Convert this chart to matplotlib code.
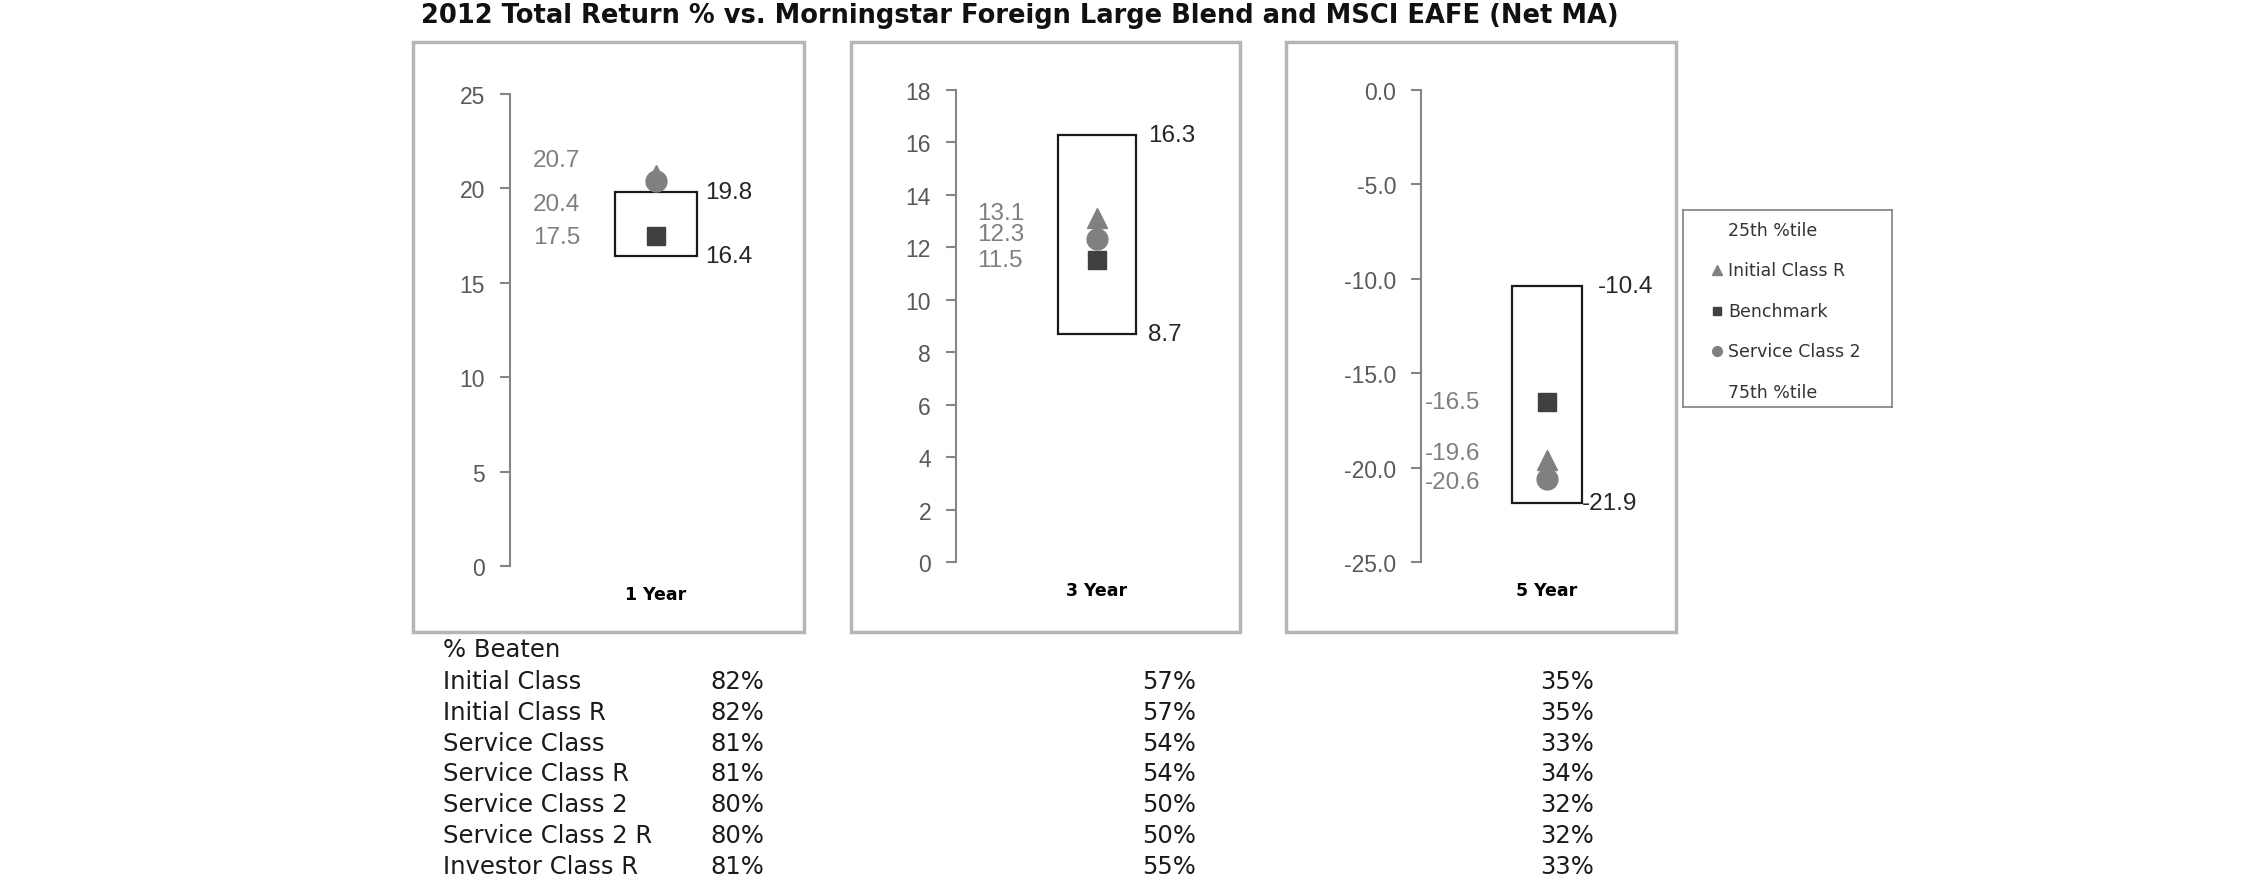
import matplotlib
matplotlib.use("Agg")
import matplotlib.pyplot as plt
from matplotlib import font_manager
from matplotlib.patches import Rectangle
from matplotlib.ticker import FuncFormatter, MultipleLocator

# --- chart data ---
periods = ["1 Year", "3 Year", "5 Year"]
pct_25th = [19.8, 16.3, -10.4]
pct_75th = [16.4, 8.7, -21.9]
initial_class_r = [20.7, 13.1, -19.6]
benchmark = [17.5, 11.5, -16.5]
service_class_2 = [20.4, 12.3, -20.6]
y_limits = [(0, 25), (0, 18), (-25, 0)]
y_steps = [5, 2, 5]
y_decimals = [0, 0, 1]

legend_labels = ["25th %tile", "Initial Class R", "Benchmark", "Service Class 2", "75th %tile"]

share_classes = ["Initial Class", "Initial Class R", "Service Class", "Service Class R",
                 "Service Class 2", "Service Class 2 R", "Investor Class R"]
beaten_1yr = [82, 82, 81, 81, 80, 80, 81]
beaten_3yr = [57, 57, 54, 54, 50, 50, 55]
beaten_5yr = [35, 35, 33, 34, 32, 32, 33]

# --- layout (pixels of the 2250x895 picture) ---
W, H = 2250, 895
frames = [(413, 804), (851, 1240), (1286, 1676)]
frame_top, frame_bottom = 43, 633
axes_px = [(510, 802, 95, 567), (956, 1238, 91, 563), (1421, 1673, 91, 563)]
left_label_x = [0.157, 0.149, 0.03]
left_label_y = [[21.5, 19.2, 17.45], [13.3, 12.5, 11.5], [-16.5, -19.25, -20.75]]
right_label_x = [(1.336, 1.336), (1.362, 1.362), (1.405, 1.278)]

# numbers in the original are a narrow Arial; use the narrow face when present
try:
    font_manager.findfont("Liberation Sans Narrow", fallback_to_default=False)
    num_family, tick_size, value_size = "Liberation Sans Narrow", 19, 20.5
except ValueError:
    num_family, tick_size, value_size = "Liberation Sans", 16.5, 17.5


def fx(px):
    return px / W


def fy(py):
    return 1 - py / H


fig = plt.figure(figsize=(W / 100, H / 100), dpi=100)
fig.patch.set_facecolor("white")

fig.text(fx(1020), fy(16), "2012 Total Return % vs. Morningstar Foreign Large Blend and MSCI EAFE (Net MA)",
         ha="center", va="center", fontsize=18.5, fontweight="bold", family="DejaVu Sans", color="#111111")

for i, period in enumerate(periods):
    x0, x1 = frames[i]
    fig.add_artist(Rectangle((fx(x0), fy(frame_bottom)), (x1 - x0) / W, (frame_bottom - frame_top) / H,
                             transform=fig.transFigure, fill=False, edgecolor="#b5b5b5", linewidth=2.5))

    left, right, top, bottom = axes_px[i]
    ax = fig.add_axes([fx(left), fy(bottom), (right - left) / W, (bottom - top) / H])
    ax.patch.set_visible(False)
    ax.set_xlim(0, 2)
    ax.set_ylim(*y_limits[i])

    for side in ["top", "right", "bottom"]:
        ax.spines[side].set_visible(False)
    ax.spines["left"].set_color("#868686")
    ax.spines["left"].set_linewidth(1.5)

    ax.yaxis.set_major_locator(MultipleLocator(y_steps[i]))
    dec = y_decimals[i]
    ax.yaxis.set_major_formatter(FuncFormatter(lambda v, p, d=dec: f"{v:.{d}f}"))
    ax.tick_params(axis="y", length=7, width=1.5, color="#868686", pad=11,
                   labelsize=tick_size, labelcolor="#595959")
    for lab in ax.get_yticklabels():
        lab.set_family(num_family)

    ax.set_xticks([1], [period])
    ax.tick_params(axis="x", length=0, pad=14, labelsize=12.5)
    for lab in ax.get_xticklabels():
        lab.set_fontweight("bold")
        lab.set_family("DejaVu Sans")

    # 25th-75th percentile box
    ax.bar(1, pct_25th[i] - pct_75th[i], bottom=pct_75th[i], width=0.56,
           fill=False, edgecolor="#1a1a1a", linewidth=1.6, zorder=2)

    ax.plot(1, initial_class_r[i], marker="^", markersize=14, color="#808080", linestyle="none", zorder=3)
    ax.plot(1, service_class_2[i], marker="o", markersize=15, color="#808080", linestyle="none", zorder=4)
    ax.plot(1, benchmark[i], marker="s", markersize=13.5, color="#404040", linestyle="none", zorder=5)

    vals = sorted([initial_class_r[i], benchmark[i], service_class_2[i]], reverse=True)
    for v, ly in zip(vals, left_label_y[i]):
        ax.text(left_label_x[i], ly, f"{v:.1f}", ha="left", va="center", fontsize=value_size,
                family=num_family, color="#7f7f7f")

    ax.text(right_label_x[i][0], pct_25th[i], f"{pct_25th[i]:.1f}", ha="left", va="center",
            fontsize=value_size, family=num_family, color="#262626")
    ax.text(right_label_x[i][1], pct_75th[i], f"{pct_75th[i]:.1f}", ha="left", va="center",
            fontsize=value_size, family=num_family, color="#262626")

# legend box
lax = fig.add_axes([fx(1683), fy(408), (1892 - 1683) / W, (408 - 211) / H])
lax.set_xlim(0, 1)
lax.set_ylim(0, 1)
lax.set_xticks([])
lax.set_yticks([])
for s in lax.spines.values():
    s.set_color("#808080")
    s.set_linewidth(1.2)
legend_markers = [None, ("^", "#808080", 7), ("s", "#404040", 6), ("o", "#808080", 7), None]
for k, (lab, mk) in enumerate(zip(legend_labels, legend_markers)):
    yy = 1 - (20 + k * 40.4) / 197
    if mk is not None:
        lax.plot(0.163, yy, marker=mk[0], color=mk[1], markersize=mk[2], linestyle="none")
    lax.text(0.215, yy, lab, ha="left", va="center", fontsize=12.5, family="DejaVu Sans", color="#333333")

# % beaten table
tsize = 17.5
fig.text(fx(443), fy(650), "% Beaten", ha="left", va="center", fontsize=tsize, family="DejaVu Sans", color="#1a1a1a")
for r, name in enumerate(share_classes):
    yy = fy(682 + r * 30.8)
    fig.text(fx(443), yy, name, ha="left", va="center", fontsize=tsize, family="DejaVu Sans", color="#1a1a1a")
    fig.text(fx(710), yy, f"{beaten_1yr[r]}%", ha="left", va="center", fontsize=tsize, family="DejaVu Sans", color="#1a1a1a")
    fig.text(fx(1142), yy, f"{beaten_3yr[r]}%", ha="left", va="center", fontsize=tsize, family="DejaVu Sans", color="#1a1a1a")
    fig.text(fx(1540), yy, f"{beaten_5yr[r]}%", ha="left", va="center", fontsize=tsize, family="DejaVu Sans", color="#1a1a1a")

fig.savefig("out.png", dpi=100, facecolor="white")
